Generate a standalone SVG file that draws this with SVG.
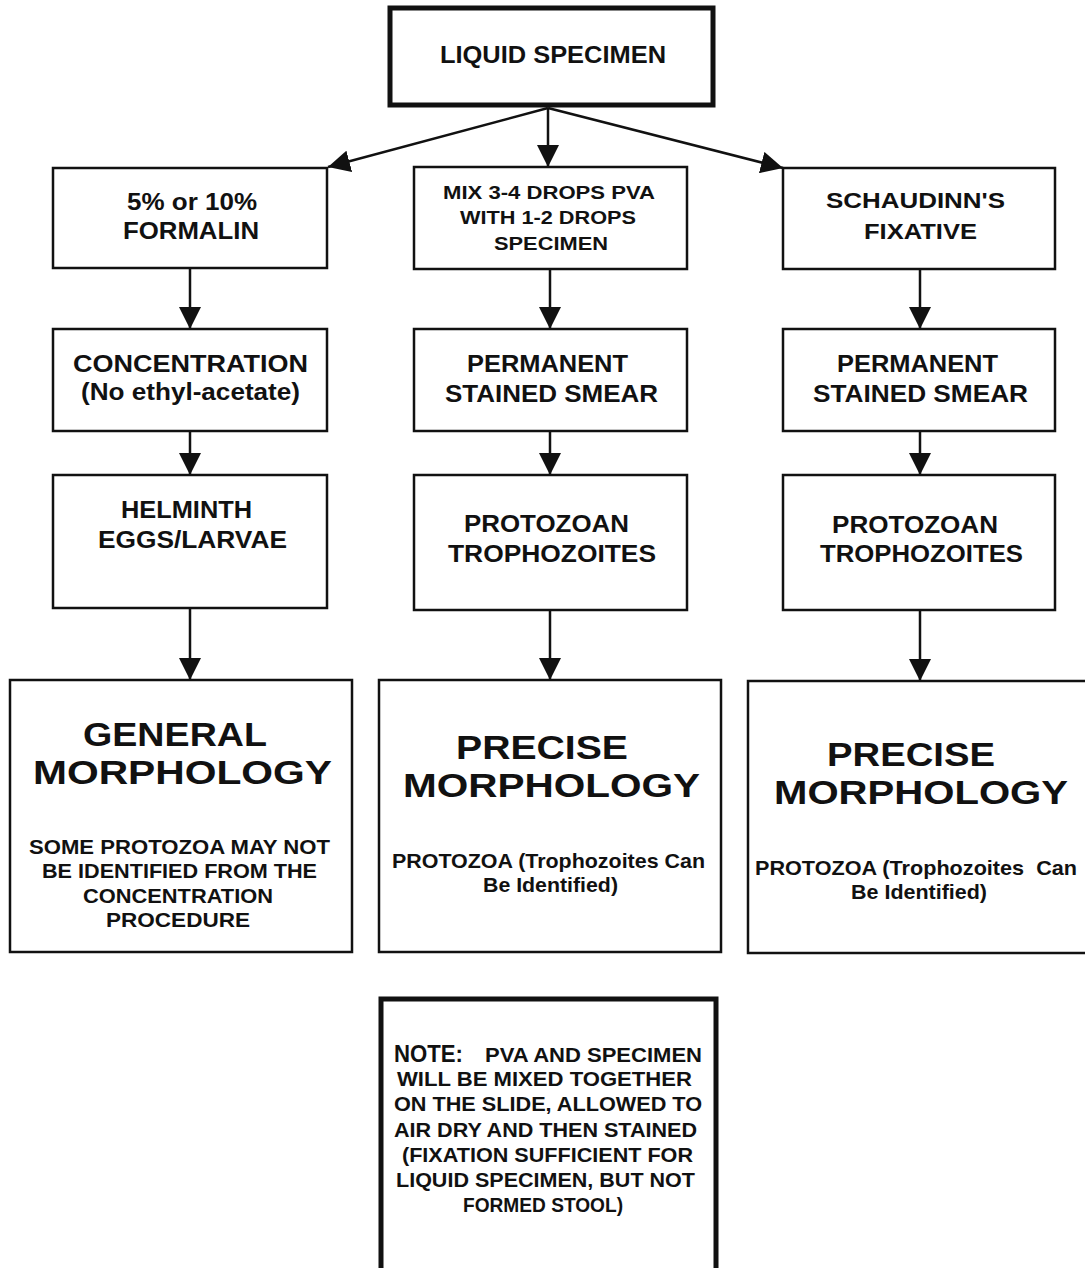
<svg xmlns="http://www.w3.org/2000/svg" width="1085" height="1268" viewBox="0 0 1085 1268">
<style>
.box{fill:#fff;stroke:#111;stroke-width:2.5}
.thick{fill:#fff;stroke:#111;stroke-width:5}
text{font-family:"Liberation Sans",Arial,sans-serif;font-weight:bold;fill:#111;text-anchor:middle}
.t24{font-size:24px}
.t22{font-size:22px}
.t18{font-size:18.5px}
.nt{font-size:20px}
.big{font-size:33.5px}
.sm{font-size:21px}
.conn line{stroke:#111;stroke-width:2.5}
</style>
<defs>
<marker id="ah" viewBox="0 0 20 20" refX="20" refY="10" markerWidth="22" markerHeight="22" markerUnits="userSpaceOnUse" orient="auto">
<path d="M0,0 L20,10 L0,20 Z" fill="#111"/>
</marker>
</defs>
<rect width="1085" height="1268" fill="#fff"/>
<g class="conn">
<line x1="548" y1="108" x2="548" y2="167" marker-end="url(#ah)"/>
<line x1="548" y1="108" x2="328" y2="167" marker-end="url(#ah)"/>
<line x1="548" y1="108" x2="783" y2="168" marker-end="url(#ah)"/>
<line x1="190" y1="268" x2="190" y2="329" marker-end="url(#ah)"/>
<line x1="190" y1="431" x2="190" y2="475" marker-end="url(#ah)"/>
<line x1="190" y1="608" x2="190" y2="680" marker-end="url(#ah)"/>
<line x1="550" y1="269" x2="550" y2="329" marker-end="url(#ah)"/>
<line x1="550" y1="431" x2="550" y2="475" marker-end="url(#ah)"/>
<line x1="550" y1="610" x2="550" y2="680" marker-end="url(#ah)"/>
<line x1="920" y1="269" x2="920" y2="329" marker-end="url(#ah)"/>
<line x1="920" y1="431" x2="920" y2="475" marker-end="url(#ah)"/>
<line x1="920" y1="610" x2="920" y2="681" marker-end="url(#ah)"/>
</g>
<g id="liquid">
<rect class="thick" x="390" y="8" width="323" height="97"/>
<text x="553" y="63" font-size="23.5" textLength="226" lengthAdjust="spacingAndGlyphs">LIQUID SPECIMEN</text>
</g>
<g id="formalin">
<rect class="box" x="53" y="168" width="274" height="100"/>
<text class="t24" x="192" y="210" textLength="130" lengthAdjust="spacingAndGlyphs">5% or 10%</text>
<text class="t24" x="191" y="239" textLength="136" lengthAdjust="spacingAndGlyphs">FORMALIN</text>
</g>
<g id="pva">
<rect class="box" x="414" y="167" width="273" height="102"/>
<text class="t18" x="549" y="199" textLength="212" lengthAdjust="spacingAndGlyphs">MIX 3-4 DROPS PVA</text>
<text class="t18" x="548" y="224" textLength="176" lengthAdjust="spacingAndGlyphs">WITH 1-2 DROPS</text>
<text class="t18" x="551" y="250" textLength="114" lengthAdjust="spacingAndGlyphs">SPECIMEN</text>
</g>
<g id="schaudinn">
<rect class="box" x="783" y="168" width="272" height="101"/>
<text class="t22" x="915.5" y="208" textLength="179" lengthAdjust="spacingAndGlyphs">SCHAUDINN'S</text>
<text class="t22" x="920.5" y="239" textLength="113" lengthAdjust="spacingAndGlyphs">FIXATIVE</text>
</g>
<g id="concentration">
<rect class="box" x="53" y="329" width="274" height="102"/>
<text class="t24" x="190.5" y="372" textLength="235" lengthAdjust="spacingAndGlyphs">CONCENTRATION</text>
<text class="t24" x="190.5" y="400" textLength="219" lengthAdjust="spacingAndGlyphs">(No ethyl-acetate)</text>
</g>
<g id="smear1">
<rect class="box" x="414" y="329" width="273" height="102"/>
<text class="t24" x="547.5" y="372" textLength="161" lengthAdjust="spacingAndGlyphs">PERMANENT</text>
<text class="t24" x="551.5" y="402" textLength="213" lengthAdjust="spacingAndGlyphs">STAINED SMEAR</text>
</g>
<g id="smear2">
<rect class="box" x="783" y="329" width="272" height="102"/>
<text class="t24" x="917.5" y="372" textLength="161" lengthAdjust="spacingAndGlyphs">PERMANENT</text>
<text class="t24" x="920.5" y="402" textLength="215" lengthAdjust="spacingAndGlyphs">STAINED SMEAR</text>
</g>
<g id="helminth">
<rect class="box" x="53" y="475" width="274" height="133"/>
<text class="t24" x="186.5" y="518" textLength="131" lengthAdjust="spacingAndGlyphs">HELMINTH</text>
<text class="t24" x="192.5" y="548" textLength="189" lengthAdjust="spacingAndGlyphs">EGGS/LARVAE</text>
</g>
<g id="tropho1">
<rect class="box" x="414" y="475" width="273" height="135"/>
<text class="t24" x="546.5" y="532" textLength="165" lengthAdjust="spacingAndGlyphs">PROTOZOAN</text>
<text class="t24" x="552" y="562" textLength="208" lengthAdjust="spacingAndGlyphs">TROPHOZOITES</text>
</g>
<g id="tropho2">
<rect class="box" x="783" y="475" width="272" height="135"/>
<text class="t24" x="915" y="533" textLength="166" lengthAdjust="spacingAndGlyphs">PROTOZOAN</text>
<text class="t24" x="921.5" y="562" textLength="203" lengthAdjust="spacingAndGlyphs">TROPHOZOITES</text>
</g>
<g id="general">
<rect class="box" x="10" y="680" width="342" height="272"/>
<text class="big" x="175" y="746" textLength="184" lengthAdjust="spacingAndGlyphs">GENERAL</text>
<text class="big" x="182.5" y="784" textLength="299" lengthAdjust="spacingAndGlyphs">MORPHOLOGY</text>
<text class="sm" x="179.5" y="854" textLength="301" lengthAdjust="spacingAndGlyphs">SOME PROTOZOA MAY NOT</text>
<text class="sm" x="179.5" y="878" textLength="275" lengthAdjust="spacingAndGlyphs">BE IDENTIFIED FROM THE</text>
<text class="sm" x="178" y="903" textLength="190" lengthAdjust="spacingAndGlyphs">CONCENTRATION</text>
<text class="sm" x="178" y="927" textLength="144" lengthAdjust="spacingAndGlyphs">PROCEDURE</text>
</g>
<g id="precise1">
<rect class="box" x="379" y="680" width="342" height="272"/>
<text class="big" x="542" y="759" textLength="172" lengthAdjust="spacingAndGlyphs">PRECISE</text>
<text class="big" x="551.5" y="797" textLength="297" lengthAdjust="spacingAndGlyphs">MORPHOLOGY</text>
<text class="sm" x="548.5" y="868" textLength="313" lengthAdjust="spacingAndGlyphs">PROTOZOA (Trophozoites Can</text>
<text class="sm" x="550.5" y="892" textLength="135" lengthAdjust="spacingAndGlyphs">Be Identified)</text>
</g>
<g id="precise2">
<rect class="box" x="748" y="681" width="345" height="272"/>
<text class="big" x="911" y="766" textLength="168" lengthAdjust="spacingAndGlyphs">PRECISE</text>
<text class="big" x="921" y="804" textLength="294" lengthAdjust="spacingAndGlyphs">MORPHOLOGY</text>
<text class="sm" x="916" y="875" textLength="322" lengthAdjust="spacingAndGlyphs" xml:space="preserve">PROTOZOA (Trophozoites  Can</text>
<text class="sm" x="919" y="899" textLength="136" lengthAdjust="spacingAndGlyphs">Be Identified)</text>
</g>
<g id="note">
<rect class="thick" x="381" y="999" width="335" height="275"/>
<text x="394" y="1062" font-size="23" style="text-anchor:start" textLength="69" lengthAdjust="spacingAndGlyphs">NOTE:</text>
<text class="nt" x="485" y="1062" style="text-anchor:start" textLength="217" lengthAdjust="spacingAndGlyphs">PVA AND SPECIMEN</text>
<text class="nt" x="544.5" y="1086" textLength="295" lengthAdjust="spacingAndGlyphs">WILL BE MIXED TOGETHER</text>
<text class="nt" x="548" y="1111" textLength="308" lengthAdjust="spacingAndGlyphs">ON THE SLIDE, ALLOWED TO</text>
<text class="nt" x="545.5" y="1137" textLength="303" lengthAdjust="spacingAndGlyphs">AIR DRY AND THEN STAINED</text>
<text class="nt" x="547.5" y="1162" textLength="291" lengthAdjust="spacingAndGlyphs">(FIXATION SUFFICIENT FOR</text>
<text class="nt" x="545.5" y="1187" textLength="299" lengthAdjust="spacingAndGlyphs">LIQUID SPECIMEN, BUT NOT</text>
<text class="nt" x="543" y="1212" textLength="160" lengthAdjust="spacingAndGlyphs">FORMED STOOL)</text>
</g>
</svg>
